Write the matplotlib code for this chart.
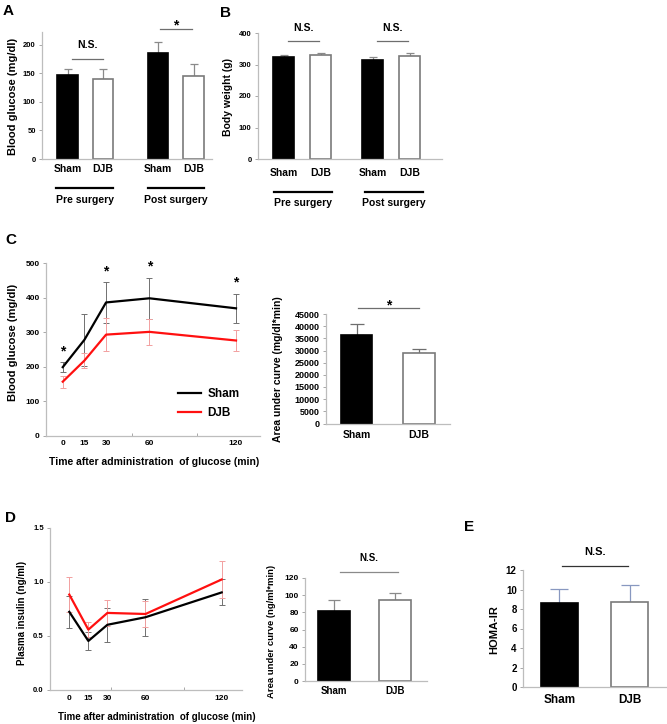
import matplotlib
matplotlib.use("Agg")
import matplotlib.pyplot as plt
import matplotlib.transforms as mtransforms
import numpy as np

# ---- data ----
arms = ["Sham", "DJB"]
surgery = ["Pre surgery", "Post surgery"]

glu_mean = [147, 139, 186, 145]          # A: pre sham, pre djb, post sham, post djb
glu_err = [11, 18, 18, 21]
bw_mean = [323, 330, 314, 328]           # B
bw_err = [6, 7, 9, 9]

times = [0, 15, 30, 60, 120]
ogtt_sham = [199, 278, 386, 398, 369]    # C
ogtt_sham_err = [15, 75, 58, 60, 42]
ogtt_djb = [157, 218, 293, 301, 276]
ogtt_djb_err = [17, 22, 47, 38, 29]
ogtt_sig = [True, False, True, True, True]
auc_glu = [36500, 29000]
auc_glu_err = [4300, 1800]

ins_sham = [0.72, 0.45, 0.60, 0.67, 0.90]   # D
ins_sham_err = [0.15, 0.08, 0.16, 0.17, 0.12]
ins_djb = [0.88, 0.555, 0.71, 0.70, 1.02]
ins_djb_err = [0.16, 0.07, 0.12, 0.12, 0.17]
auc_ins = [81, 94]
auc_ins_err = [13, 8]

homa = [8.6, 8.7]                        # E
homa_err = [1.45, 1.75]

plt.rcParams["font.family"] = ["Liberation Sans", "DejaVu Sans"]
plt.rcParams["font.weight"] = "bold"

W, H = 667, 724
fig = plt.figure(figsize=(W / 100, H / 100), dpi=100)

RED = "#ff1010"
SPINE = "#bdbdbd"


def add_ax(l, t, r, b):
    ax = fig.add_axes([l / W, 1 - b / H, (r - l) / W, (b - t) / H])
    ax.rect_px = (l, t, r, b)
    for s in ["top", "right"]:
        ax.spines[s].set_visible(False)
    for s in ["left", "bottom"]:
        ax.spines[s].set_color(SPINE)
        ax.spines[s].set_linewidth(0.9)
    ax.patch.set_alpha(0)
    return ax


def yticks(ax, ticks, size, fmt=None):
    ax.set_yticks(ticks)
    if fmt:
        ax.set_yticklabels([fmt % t for t in ticks])
    ax.tick_params(axis="y", labelsize=size, length=2.5, width=0.6, color="#9a9a9a", pad=2)


def xticks(ax, ticks, labels, size, pad):
    ax.set_xticks(ticks)
    ax.set_xticklabels(labels)
    ax.tick_params(axis="x", labelsize=size, length=0, pad=pad)


def ylabel_at(ax, text, x_px, y_px, size):
    l, t, r, b = ax.rect_px
    ax.set_ylabel(text, fontsize=size, fontweight="bold")
    ax.yaxis.set_label_coords((x_px - l) / (r - l), (b - y_px) / (b - t))
    ax.yaxis.label.set_va("center")


def xlabel_at(ax, text, x_px, y_px, size):
    l, t, r, b = ax.rect_px
    ax.set_xlabel(text, fontsize=size, fontweight="bold")
    ax.xaxis.set_label_coords((x_px - l) / (r - l), (b - y_px) / (b - t))
    ax.xaxis.label.set_va("center")


def below(ax, px):
    return mtransforms.offset_copy(ax.get_xaxis_transform(), fig=fig, x=0, y=-px, units="dots")


def bars(ax, pos, means, errs, width, capsize, ecolor="#8a8a8a"):
    n = len(means)
    ax.bar(pos, means, width, color=["black", "white"] * (n // 2),
           edgecolor=["black", "#7a7a7a"] * (n // 2), linewidth=1.2, zorder=2)
    ax.errorbar(pos, means, yerr=[np.zeros(n), errs], fmt="none", ecolor=ecolor,
                elinewidth=0.9, capsize=capsize, capthick=0.9, zorder=1)


def sig(ax, x0, x1, y, text, ty, size, color="#6e6e6e", va="center"):
    ax.plot([x0, x1], [y, y], color=color, lw=0.9, clip_on=False)
    ax.text((x0 + x1) / 2, ty, text, ha="center", va=va, fontsize=size,
            fontweight="bold", clip_on=False)


def group_lines(ax, spans, centers, line_px, text_px):
    for (x0, x1), c, name in zip(spans, centers, surgery):
        ax.plot([x0, x1], [0, 0], color="black", lw=1.6, clip_on=False,
                transform=below(ax, line_px))
        ax.text(c, 0, name, ha="center", va="center", fontsize=7.5, fontweight="bold",
                transform=below(ax, text_px))


# ---------------- A ----------------
axA = add_ax(42, 32, 212, 159)
posA = [0, 1, 2.55, 3.55]
bars(axA, posA, glu_mean, glu_err, 0.57, 3.2)
axA.set_xlim(-0.72, 4.07)
axA.set_ylim(0, 222)
yticks(axA, range(0, 201, 50), 5.5)
xticks(axA, posA, arms * 2, 7.5, 3.5)
ylabel_at(axA, "Blood glucose (mg/dl)", 13, 96, 8)
sig(axA, 0.13, 1.0, 175, "N.S.", 200, 7.5)
sig(axA, 2.6, 3.5, 228, "*", 226, 10, va="baseline")
group_lines(axA, [(-0.32, 1.28), (2.27, 3.85)], [0.48, 3.06], 29, 41)

# ---------------- B ----------------
axB = add_ax(258, 33, 442, 159)
posB = [0, 1, 2.4, 3.4]
bars(axB, posB, bw_mean, bw_err, 0.57, 3.2)
axB.set_xlim(-0.70, 4.27)
axB.set_ylim(0, 400)
yticks(axB, range(0, 401, 100), 5.5)
xticks(axB, posB, arms * 2, 7.5, 6.5)
ylabel_at(axB, "Body weight (g)", 228, 97, 7.5)
sig(axB, 0.11, 0.95, 375, "N.S.", 416, 7.5)
sig(axB, 2.51, 3.35, 375, "N.S.", 416, 7.5)
group_lines(axB, [(-0.27, 1.3), (2.19, 3.76)], [0.51, 2.97], 33, 44)

# ---------------- C (OGTT) ----------------
axC = add_ax(46, 263, 260, 436)
axC.errorbar(times, ogtt_sham, yerr=ogtt_sham_err, color="black", lw=1.6,
             ecolor="#707070", elinewidth=0.7, capsize=2.5, capthick=0.7, label="Sham")
axC.errorbar(times, ogtt_djb, yerr=ogtt_djb_err, color=RED, lw=1.6,
             ecolor="#f2a0a0", elinewidth=0.7, capsize=2.5, capthick=0.7, label="DJB")
for t, m, e, s in zip(times, ogtt_sham, ogtt_sham_err, ogtt_sig):
    if s:
        axC.text(t, m + e + 20, "*", ha="center", va="baseline", fontsize=10,
                 fontweight="bold", clip_on=False)
axC.set_xlim(-11.6, 136.6)
axC.set_ylim(0, 500)
yticks(axC, range(0, 501, 100), 6)
xticks(axC, times, [str(t) for t in times], 6, 3)
axC.set_xticks([48, 93], minor=True)
axC.tick_params(axis="x", which="minor", direction="in", length=2.5, width=0.6, color="#9a9a9a")
ylabel_at(axC, "Blood glucose (mg/dl)", 13, 342, 8)
xlabel_at(axC, "Time after administration  of glucose (min)", 154, 462, 7.5)
handles, labels = axC.get_legend_handles_labels()
leg = axC.legend([h[0] for h in handles], labels, loc="upper left",
                 bbox_to_anchor=(0.59, 0.31), frameon=False, fontsize=8.5,
                 handlelength=1.9, handletextpad=0.6, labelspacing=0.55, borderpad=0)

axCa = add_ax(326, 314, 450, 423.5)
bars(axCa, [0, 1], auc_glu, auc_glu_err, 0.51, 5.2, ecolor="#6e6e6e")
axCa.set_xlim(-0.49, 1.5)
axCa.set_ylim(0, 45000)
yticks(axCa, range(0, 45001, 5000), 6.5)
xticks(axCa, [0, 1], arms, 7.5, 4.5)
ylabel_at(axCa, "Area under curve (mg/dl*min)", 278, 369, 7.5)
sig(axCa, 0.02, 1.0, 47550, "*", 46900, 10, va="baseline")

# ---------------- D (insulin) ----------------
axD = add_ax(50, 527.7, 242, 689.5)
axD.errorbar(times, ins_sham, yerr=ins_sham_err, color="black", lw=1.6,
             ecolor="#707070", elinewidth=0.7, capsize=2.5, capthick=0.7)
axD.errorbar(times, ins_djb, yerr=ins_djb_err, color=RED, lw=1.6,
             ecolor="#f2a0a0", elinewidth=0.7, capsize=2.5, capthick=0.7)
axD.set_xlim(-15.2, 136)
axD.set_ylim(0, 1.5)
yticks(axD, [0, 0.5, 1.0, 1.5], 5.5, "%.1f")
xticks(axD, times, [str(t) for t in times], 6, 4)
axD.set_xticks([33, 90], minor=True)
axD.tick_params(axis="x", which="minor", direction="in", length=2.5, width=0.6, color="#9a9a9a")
ylabel_at(axD, "Plasma insulin (ng/ml)", 22, 613, 7)
xlabel_at(axD, "Time after administration  of glucose (min)", 157, 717, 7)

axDa = add_ax(305, 578, 427, 681)
bars(axDa, [0, 1], auc_ins, auc_ins_err, 0.52, 4.3)
axDa.set_xlim(-0.475, 1.52)
axDa.set_ylim(0, 120)
yticks(axDa, range(0, 121, 20), 6)
xticks(axDa, [0, 1], arms, 7, 3.5)
ylabel_at(axDa, "Area under curve (ng/ml*min)", 271, 631, 6.8)
sig(axDa, 0.1, 1.05, 127.4, "N.S.", 143.7, 7, color="#8a8a8a")

# ---------------- E (HOMA-IR) ----------------
axE = add_ax(523, 570, 666, 687)
bars(axE, [0, 1], homa, homa_err, 0.53, 6.2, ecolor="#8898c0")
axE.set_xlim(-0.52, 1.52)
axE.set_ylim(0, 12)
yticks(axE, range(0, 13, 2), 7)
xticks(axE, [0, 1], arms, 8.5, 5)
ylabel_at(axE, "HOMA-IR", 494, 630, 8)
sig(axE, 0.036, 0.98, 12.4, "N.S.", 13.85, 8, color="#333333")

# panel letters
for letter, x, y in [("A", 8.5, 11), ("B", 226, 13), ("C", 11, 240), ("D", 11, 518), ("E", 469, 527)]:
    fig.text(x / W, 1 - y / H, letter, ha="center", va="center", fontsize=11, fontweight="bold")

fig.savefig("out.png", dpi=100)
